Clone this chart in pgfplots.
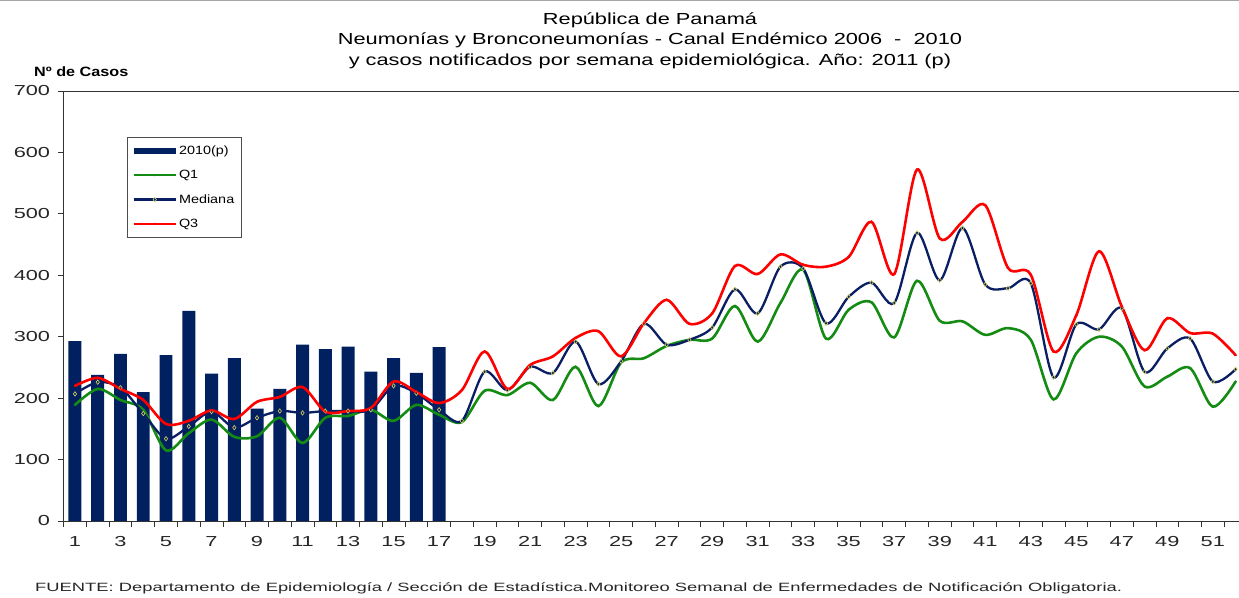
\documentclass[border=0pt]{standalone}
\usepackage{pgfplots}
\usepackage{pgfplotstable}
\pgfplotsset{compat=1.18}
\usepackage{fontspec}
\setmainfont{Liberation Sans}[FakeStretch=1.2]
\newfontfamily\titlefont{Liberation Sans}[FakeStretch=1.36]
\newfontfamily\tickfont{Liberation Sans}[FakeStretch=1.5]
\newfontfamily\footfont{Liberation Sans}[FakeStretch=1.53]
\definecolor{barnavy}{RGB}{0,32,96}
\definecolor{mednavy}{RGB}{10,30,100}
\definecolor{q1green}{RGB}{20,140,20}
\definecolor{q3red}{RGB}{255,0,0}
\definecolor{mkyellow}{RGB}{215,215,90}

\pgfplotstableread{
week cases
1 293
2 238
3 272
4 210
5 270
6 342
7 240
8 265
9 183
10 215
11 287
12 280
13 284
14 243
15 265
16 241
17 283
}\barsdata

\pgfplotstableread{
week q1 med q3
1 189 207 220
2 215 226 233
3 197 217 215
4 181 175 197
5 115 134 158
6 143 154 163
7 165 178 180
8 137 152 166
9 138 168 194
10 168 179 202
11 127 176 218
12 168 179 178
13 171 179 179
14 181 181 184
15 163 220 227
16 189 208 210
17 173 181 192
18 161 163 213
19 212 243 276
20 205 213 215
21 225 251 254
22 197 241 268
23 251 292 298
24 187 223 309
25 258 260 268
26 265 321 322
27 285 287 360
28 295 295 321
29 297 315 338
30 350 377 415
31 292 338 402
32 355 414 434
33 409 411 417
34 297 322 414
35 344 365 430
36 356 388 487
37 299 355 402
38 391 469 572
39 326 392 460
40 325 477 487
41 303 385 514
42 314 379 412
43 295 387 401
44 198 234 276
45 273 320 335
46 300 312 439
47 284 346 349
48 219 243 278
49 235 281 330
50 249 297 306
51 186 227 305
52 227 247 270
}\lines

\begin{document}
\begin{tikzpicture}[x=1pt,y=1pt]
\clip (0,0) rectangle (1239,597);
\fill[white] (0,0) rectangle (1239,597);
\draw[gray!70, line width=1pt] (0,596.5) -- (1239,596.5);
\begin{axis}[
  at={(63.6pt,76pt)}, anchor=south west,
  scale only axis, width=1183.4pt, height=430pt,
  xmin=0.5, xmax=52.5, ymin=0, ymax=700,
  ytick={0,100,...,700},
  xtick={1,3,...,51},
  minor xtick={0.5,1.5,...,52.5},
  tick pos=left,
  major x tick style={draw=none},
  minor x tick style={draw=black!80, line width=0.8pt},
  y tick style={draw=black!80, line width=0.8pt},
  tick align=outside,
  major tick length=6pt, minor tick length=6pt,
  axis line style={black!80, line width=0.8pt},
  tick label style={font=\tickfont\fontsize{14.5}{16}\selectfont, text=black!85},
  /pgf/number format/assume math mode=true,
  xticklabel style={yshift=-6pt},
  yticklabel style={xshift=-4pt},
  legend style={
    at={(0.0536,0.893)}, anchor=north west,
    draw=black!70, line width=0.8pt,
    font=\fontsize{12}{14}\selectfont,
    row sep=10.5pt, inner xsep=5pt, inner ysep=6pt,
    /tikz/every even column/.append style={column sep=2pt},
    legend cell align=left,
  },
  legend image code/.code={
    \draw[#1, mark repeat=2, mark phase=2] plot coordinates {(0pt,0pt) (21pt,0pt) (42pt,0pt)};
  },
]
\addplot[ybar, bar width=0.57, fill=barnavy, draw=none,
  legend image code/.code={\fill[barnavy] (0pt,-3pt) rectangle (42pt,3pt);}]
  table[x=week, y=cases] {\barsdata};
\addlegendentry{2010(p)}
\addplot[q1green, line width=2.6pt, smooth, tension=0.5, mark=*, mark size=1pt,
  mark options={line width=0.3pt, fill=q1green}]
  table[x=week, y=q1] {\lines};
\addlegendentry{Q1}
\addplot[mednavy, line width=2.3pt, smooth, tension=0.5, mark=diamond*, mark size=2.2pt,
  mark options={line width=0.6pt, draw=mkyellow, fill=mednavy}]
  table[x=week, y=med] {\lines};
\addlegendentry{Mediana}
\addplot[q3red, line width=2.6pt, smooth, tension=0.5, mark=triangle*, mark size=1.3pt,
  mark options={line width=0.3pt, fill=q3red}]
  table[x=week, y=q3] {\lines};
\addlegendentry{Q3}
\end{axis}
\node[font=\titlefont\fontsize{16}{18}\selectfont] at (650,577) {República de Panamá};
\node[font=\titlefont\fontsize{16}{18}\selectfont] at (650,557) {Neumonías y Bronconeumonías - Canal Endémico 2006 \ - \ 2010};
\node[font=\titlefont\fontsize{16}{18}\selectfont] at (650,536) {y casos notificados por semana epidemiológica. Año: 2011 (p)};
\node[font=\bfseries\fontsize{13.5}{15}\selectfont, anchor=west, inner sep=0pt] at (34,525) {Nº de Casos};
\node[font=\footfont\fontsize{12}{14}\selectfont, anchor=west, inner sep=0pt, text=black!85] at (35,9) {FUENTE: Departamento de Epidemiología / Sección de Estadística.Monitoreo Semanal de Enfermedades de Notificación Obligatoria.};
\end{tikzpicture}
\end{document}
